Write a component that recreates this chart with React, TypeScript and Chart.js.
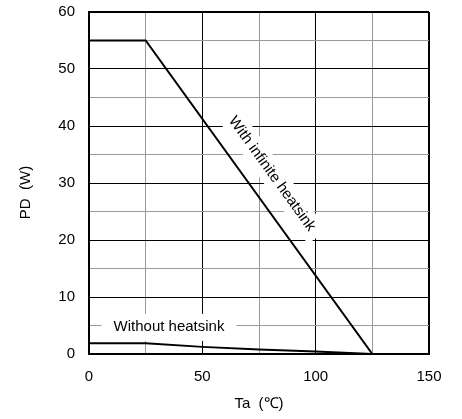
import React, { useEffect, useRef } from 'react';
import { Chart, registerables } from 'chart.js';

Chart.register(...registerables);

// ---- data ----
const taWithSink = [0, 25, 125];
const pdWithSink = [55, 55, 0];
const taWithoutSink = [0, 25, 50, 75, 100, 125];
const pdWithoutSink = [1.9, 1.9, 1.25, 0.8, 0.45, 0];

const xMin = 0;
const xMax = 150;
const xStep = 25;
const xMajor = 50;
const yMin = 0;
const yMax = 60;
const yStep = 5;
const yMajor = 10;

const labelWith = 'With infinite heatsink';
const labelWithout = 'Without heatsink';
const xTitle = 'Ta  (\u2103)';
const yTitle = 'PD  (W)';

const FONT = '"Liberation Sans", Arial, Helvetica, sans-serif';

const labelsPlugin = {
  id: 'curveLabels',
  beforeDatasetsDraw(chart: any) {
    const { ctx, scales } = chart;
    const x = scales.x;
    const y = scales.y;
    ctx.save();
    ctx.font = `15px ${FONT}`;
    ctx.textAlign = 'center';
    ctx.textBaseline = 'middle';

    // "Without heatsink" label with white box
    const wx = x.getPixelForValue(35.3);
    const wy = y.getPixelForValue(4.75);
    const tw = ctx.measureText(labelWithout).width;
    ctx.fillStyle = '#fff';
    ctx.fillRect(wx - tw / 2 - 12, wy - 13, tw + 24, 27);
    ctx.fillStyle = '#000';
    ctx.fillText(labelWithout, wx, wy);

    // rotated "With infinite heatsink" label
    const x0 = x.getPixelForValue(taWithSink[1]);
    const y0 = y.getPixelForValue(pdWithSink[1]);
    const x1 = x.getPixelForValue(taWithSink[2]);
    const y1 = y.getPixelForValue(pdWithSink[2]);
    const ang = Math.atan2(y1 - y0, x1 - x0);
    const cx = x.getPixelForValue(80.7);
    const cy = y.getPixelForValue(31.6);
    const tw2 = ctx.measureText(labelWith).width;
    ctx.translate(cx, cy);
    ctx.rotate(ang);
    ctx.fillStyle = '#fff';
    ctx.fillRect(-tw2 / 2 - 9, -12, tw2 + 18, 24);
    ctx.fillStyle = '#000';
    ctx.fillText(labelWith, 0, 0);
    ctx.restore();
  },
  afterDraw(chart: any) {
    const { ctx, chartArea } = chart;
    ctx.save();
    ctx.font = `15px ${FONT}`;
    ctx.fillStyle = '#000';
    ctx.textAlign = 'center';
    ctx.textBaseline = 'middle';
    ctx.translate(chartArea.left - 63, (chartArea.top + chartArea.bottom) / 2 + 9.5);
    ctx.rotate(-Math.PI / 2);
    ctx.fillText(yTitle, 0, 0);
    ctx.restore();
  },
};

export default function App() {
  const ref = useRef<HTMLCanvasElement | null>(null);

  useEffect(() => {
    if (!ref.current) return;
    const gridColor = (major: number) => (c: any) =>
      c.tick && Math.abs(c.tick.value % major) < 1e-9 ? '#000' : '#9a9a9a';
    const gridWidth = (lo: number, hi: number) => (c: any) =>
      c.tick && (c.tick.value === lo || c.tick.value === hi) ? 2 : 1;

    const chart = new Chart(ref.current, {
      type: 'scatter',
      data: {
        datasets: [
          {
            data: taWithSink.map((t, i) => ({ x: t, y: pdWithSink[i] })),
            showLine: true,
            borderColor: '#000',
            borderWidth: 2,
            pointRadius: 0,
            tension: 0,
          },
          {
            data: taWithoutSink.map((t, i) => ({ x: t, y: pdWithoutSink[i] })),
            showLine: true,
            borderColor: '#000',
            borderWidth: 2,
            pointRadius: 0,
            tension: 0,
          },
        ],
      },
      options: {
        responsive: false,
        animation: false,
        layout: { padding: { left: 0, top: 12, right: 33, bottom: 0 } },
        plugins: {
          legend: { display: false },
          tooltip: { enabled: false },
        },
        scales: {
          x: {
            type: 'linear',
            min: xMin,
            max: xMax,
            afterFit: (s: any) => {
              s.height = 65;
              s.paddingLeft = 0;
              s.paddingRight = 0;
            },
            ticks: {
              stepSize: xStep,
              autoSkip: false,
              maxRotation: 0,
              padding: 14,
              color: '#000',
              font: { family: FONT, size: 15 },
              callback: (v: any) => (v % xMajor === 0 ? String(v) : ''),
            },
            grid: {
              drawTicks: false,
              color: gridColor(xMajor),
              lineWidth: gridWidth(xMin, xMax),
            },
            border: { display: true, color: '#000', width: 2 },
            title: {
              display: true,
              text: xTitle,
              color: '#000',
              font: { family: FONT, size: 15 },
              padding: { top: 0, bottom: 6 },
            },
          },
          y: {
            type: 'linear',
            min: yMin,
            max: yMax,
            afterFit: (s: any) => {
              s.width = 89;
              s.paddingTop = 0;
              s.paddingBottom = 0;
            },
            ticks: {
              stepSize: yStep,
              autoSkip: false,
              padding: 14,
              color: '#000',
              font: { family: FONT, size: 15 },
              callback: (v: any) => (v % yMajor === 0 ? String(v) : ''),
            },
            grid: {
              drawTicks: false,
              color: gridColor(yMajor),
              lineWidth: gridWidth(yMin, yMax),
            },
            border: { display: true, color: '#000', width: 2 },
          },
        },
      },
      plugins: [labelsPlugin],
    } as any);

    return () => chart.destroy();
  }, []);

  return (
    <div style={{ position: 'fixed', left: 0, top: 0, width: 462, height: 419, background: '#fff' }}>
      <canvas ref={ref} width={462} height={419} />
    </div>
  );
}
